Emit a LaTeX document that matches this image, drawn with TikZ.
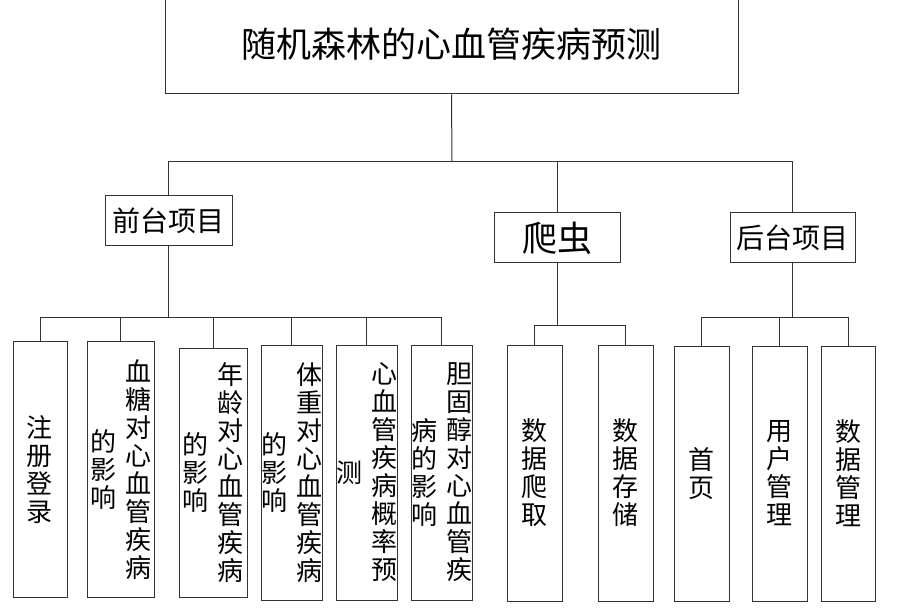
\documentclass[tikz,border=0pt]{standalone}
\usepackage{fontspec}
\setmainfont{Noto Sans CJK SC}
\usetikzlibrary{positioning,calc}
\makeatletter
\newcommand{\vcol}[1]{$\vcenter{\baselineskip=28pt\@tfor\ch:=#1\do{\hbox to 26pt{\hss\ch\hss}}}$}
\makeatother

\begin{document}
\begin{tikzpicture}[x=1pt,y=-1pt]
		\tikzset{box/.style={draw=black!80, line width=1pt, inner sep=0pt, fill=white},
			leaf/.style={box, minimum height=255pt, font=\fontsize{26}{28}\selectfont},
			con/.style={line width=1pt, black!80}}
		\useasboundingbox (0,0) rectangle (905,612);
		\node[box, minimum width=573pt, minimum height=100pt, font=\fontsize{35}{35}\selectfont] (title) at (451.5,44) {随机森林的心血管疾病预测};
		\node[box, minimum width=127pt, minimum height=50pt, font=\fontsize{28}{28}\selectfont] (qt) at (168.5,221) {前台项目};
		\node[box, minimum width=126pt, minimum height=50pt, font=\fontsize{35}{35}\selectfont] (pc) at (557,238) {爬虫};
		\node[box, minimum width=125pt, minimum height=50pt, font=\fontsize{28}{28}\selectfont] (ht) at (792.5,238) {后台项目};
		\coordinate (bus) at (452,162);
		\draw[con] (title.south) -- (bus);
		\draw[con] (qt.north) |- (bus);
		\draw[con] (pc.north) |- (bus);
		\draw[con] (ht.north) |- (bus);
		% front end
		\node[leaf, minimum width=54pt] (zc) at (40,469.5) {\vcol{注册登录}};
		\node[leaf, minimum width=67pt] (xt) at (120.5,469.5) {\vcol{的影响}\hspace{9pt}\vcol{血糖对心血管疾病}};
		\node[leaf, minimum width=68pt, minimum height=249pt] (nl) at (213,472.5) {\vcol{的影响}\hspace{9pt}\vcol{年龄对心血管疾病}};
		\node[leaf, minimum width=59pt] (tz) at (291.5,472.5) {\vcol{的影响}\hspace{9pt}\vcol{体重对心血管疾病}};
		\node[leaf, minimum width=59pt] (gl) at (366.5,472.5) {\vcol{测}\hspace{9pt}\vcol{心血管疾病概率预}};
		\node[leaf, minimum width=59pt] (dg) at (441.5,472.5) {\vcol{病的影响}\hspace{9pt}\vcol{胆固醇对心血管疾}};
		\coordinate (qbus) at (168.5,318);
		\draw[con] (qt.south) -- (qbus);
		\foreach \n in {zc,xt,nl,tz,gl,dg}
			\draw[con] (\n.north) |- (qbus);
		% crawler
		\node[leaf, minimum width=55pt, minimum height=256pt] (pq) at (534.5,473) {\vcol{数据爬取}};
		\node[leaf, minimum width=55pt, minimum height=256pt] (cc) at (625.5,473) {\vcol{数据存储}};
		\coordinate (pbus) at (557,326);
		\draw[con] (pc.south) -- (pbus);
		\foreach \n in {pq,cc}
			\draw[con] (\n.north) |- (pbus);
		% back end
		\node[leaf, minimum width=55pt] (sy) at (701.5,473.5) {\vcol{首页}};
		\node[leaf, minimum width=55pt] (yh) at (779.5,473.5) {\vcol{用户管理}};
		\node[leaf, minimum width=54pt] (sj) at (848,473.5) {\vcol{数据管理}};
		\coordinate (hbus) at (792.5,318);
		\draw[con] (ht.south) -- (hbus);
		\foreach \n in {sy,yh,sj}
			\draw[con] (\n.north) |- (hbus);
	\end{tikzpicture}
\end{document}
